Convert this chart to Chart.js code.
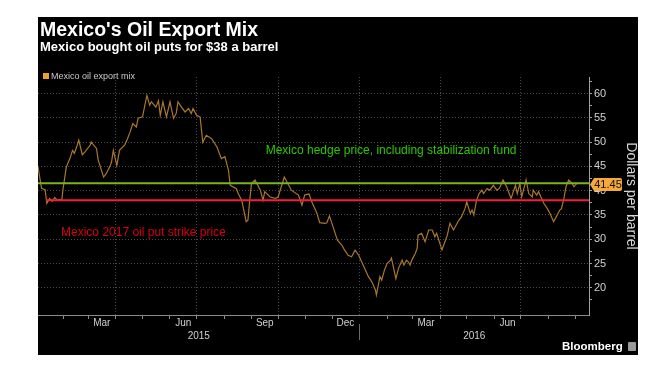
<!DOCTYPE html>
<html>
<head>
<meta charset="utf-8">
<script src="https://cdn.jsdelivr.net/npm/chart.js@4.4.0/dist/chart.umd.min.js"></script>
<style>
  html, body { margin: 0; padding: 0; background: #fff; }
  body { width: 671px; height: 376px; position: relative; overflow: hidden; font-family: "Liberation Sans", Arial, sans-serif; }
  #panel { position: absolute; left: 38px; top: 17px; width: 600px; height: 338px; background: #000; }
  #panel canvas { position: absolute; left: 0; top: 0; }
  .txt { position: absolute; white-space: nowrap; line-height: 1; z-index: 2; }
  #title { left: 2px; top: 2.5px; color: #fff; font-weight: bold; font-size: 19.5px; }
  #subtitle { left: 2px; top: 23px; color: #fff; font-weight: bold; font-size: 13px; }
  #legend { left: 5px; top: 55px; color: #c8c8c8; font-size: 9px; }
  #legend i { display: inline-block; width: 6px; height: 6px; background: #f0a030; margin-right: 2px; vertical-align: 0; }
  #brand { left: 524px; top: 324px; color: #fff; font-weight: bold; font-size: 11.5px; }
  #brand b { display: inline-block; width: 8px; height: 9px; background: #9a9a9a; border-radius: 1px; margin-left: 5px; vertical-align: -1px; }
</style>
</head>
<body>
<div id="panel">
  <canvas id="chart" width="600" height="338"></canvas>
  <div class="txt" id="title">Mexico's Oil Export Mix</div>
  <div class="txt" id="subtitle">Mexico bought oil puts for $38 a barrel</div>
  <div class="txt" id="legend"><i></i>Mexico oil export mix</div>
  <div class="txt" id="brand">Bloomberg<b></b></div>
</div>
<script>
// day numbers count from 1 Jan 2015
const startDay = Date.UTC(2015, 0, 1);
const dayOf = (y, m, d) => (Date.UTC(y, m, d) - startDay) / 864e5;

const days = [
  2, 6, 10, 12, 15, 18, 21, 24, 29, 30, 34, 38, 41, 43, 46, 48, 52, 55, 61, 62,
  68, 70, 76, 79, 83, 85, 87, 91, 94, 100, 103, 106, 109, 113, 115, 120, 123, 125, 128, 130,
  135, 138, 140, 143, 147, 151, 155, 158, 160, 164, 168, 172, 175, 177, 181, 185, 188, 192, 198, 204,
  209, 213, 217, 219, 226, 228, 232, 237, 239, 241, 243, 247, 253, 256, 258, 264, 270, 273, 280, 288,
  296, 300, 303, 308, 311, 317, 320, 326, 328, 331, 335, 340, 345, 348, 352, 356, 360, 364, 369, 375,
  379, 383, 384, 388, 390, 393, 396, 400, 401, 403, 406, 409, 413, 415, 418, 420, 422, 424, 428, 430,
  431, 435, 439, 443, 447, 450, 452, 458, 460, 464, 467, 471, 477, 480, 484, 486, 490, 492, 494, 497,
  500, 503, 505, 509, 512, 516, 520, 523, 527, 531, 536, 541, 543, 546, 548, 553, 556, 560, 561, 565,
  567, 573, 577, 580, 584, 587, 591, 593, 596, 598, 601, 605, 607, 610
];
const prices = [
  44.9, 40.5, 40.2, 37.4, 38.4, 37.8, 38.6, 38.0, 38.2, 40.0, 44.9, 46.6, 48.3, 47.7, 49.2, 50.4, 47.4, 48.0, 49.4, 50.0,
  48.7, 46.3, 42.8, 43.5, 44.9, 45.9, 48.3, 45.2, 48.3, 49.4, 50.7, 52.1, 53.8, 53.1, 54.9, 55.2, 57.9, 59.6, 57.6, 58.3,
  57.2, 58.5, 55.5, 58.3, 55.2, 58.3, 54.9, 55.9, 58.3, 57.2, 56.2, 56.9, 55.9, 56.9, 55.5, 55.2, 50.0, 51.4, 50.7, 49.0,
  46.6, 47.0, 44.2, 41.1, 40.4, 39.4, 38.0, 33.6, 33.9, 38.0, 41.5, 42.2, 40.1, 38.0, 39.8, 38.7, 38.4, 38.7, 42.8, 40.1,
  39.1, 37.0, 39.1, 39.3, 37.7, 35.3, 33.4, 33.25, 33.4, 34.8, 32.6, 29.8, 28.8, 27.8, 26.7, 26.4, 27.75, 26.7, 24.7, 22.3,
  21.2, 19.5, 18.5, 22.3, 21.6, 23.6, 25.0, 25.7, 26.1, 24.4, 21.9, 24.0, 25.7, 24.7, 25.7, 25.35, 24.7, 25.7, 27.1, 28.1,
  30.85, 31.2, 29.5, 31.9, 31.9, 30.5, 31.2, 27.8, 28.8, 30.8, 33.3, 31.9, 33.9, 34.6, 36.3, 37.7, 35.3, 36.0, 35.0, 38.0,
  39.4, 40.1, 39.4, 40.45, 40.1, 41.1, 40.1, 40.5, 42.2, 40.8, 38.4, 41.1, 39.4, 41.5, 38.7, 42.2, 39.4, 38.7, 40.1, 39.1,
  39.8, 37.4, 36.3, 35.3, 33.6, 34.6, 36.0, 36.3, 38.7, 40.8, 42.2, 41.5, 40.8, 41.45
];

const hedgePrice = 41.5;
const strikePrice = 38;
const strikeStartDay = 11;
const xMin = 2;
const xMax = 624;
const yMin = 14.4;
const yMax = 63.4;

const yTickValues = [17.5, 20, 22.5, 25, 27.5, 30, 32.5, 35, 37.5, 40, 42.5, 45, 47.5, 50, 52.5, 55, 57.5, 60, 62.5];
const monthLabels = ['Mar', 'Jun', 'Sep', 'Dec', 'Mar', 'Jun'];
const labelYears = [2015, 2015, 2015, 2015, 2016, 2016];
const labelMonths = [2, 5, 8, 11, 2, 5];
const yearLabels = ['2015', '2016'];

const notes = [
  { text: 'Mexico hedge price, including stabilization fund', day: 259, value: 48.3, color: '#2cc800' },
  { text: 'Mexico 2017 oil put strike price', day: 28, value: 31.3, color: '#d6000f' }
];

// month boundaries, quarter boundaries, mid-month label spots, year centres
const monthStarts = [];
for (let m = 0; m < 21; m++) {
  const d = dayOf(2015, m, 1);
  if (d >= xMin && d <= xMax) monthStarts.push(d);
}
const quarterStarts = [];
for (let m = 0; m < 21; m += 3) quarterStarts.push(dayOf(2015, m, 1));
const labelDays = labelMonths.map((m, i) => dayOf(labelYears[i], m, 16));
const yearBreak = dayOf(2016, 0, 1);
const yearDays = [(xMin + yearBreak) / 2, (yearBreak + xMax) / 2];

const gridColor = '#4a4a4a';
const font = 'Liberation Sans';
const tickLen = 25;

const lastLabel = {
  id: 'lastLabel',
  afterDraw(chart) {
    const { ctx, scales: { y } } = chart;
    const v = prices[prices.length - 1];
    const py = Math.round(y.getPixelForValue(v)) + 0.5;
    const x0 = y.left + 1;
    const w = 32, h = 13;
    ctx.save();
    ctx.fillStyle = '#f5a83c';
    ctx.beginPath();
    ctx.moveTo(x0, py);
    ctx.lineTo(x0 + 4, py - h / 2);
    ctx.lineTo(x0 + w - 2, py - h / 2);
    ctx.quadraticCurveTo(x0 + w, py - h / 2, x0 + w, py - h / 2 + 2);
    ctx.lineTo(x0 + w, py + h / 2 - 2);
    ctx.quadraticCurveTo(x0 + w, py + h / 2, x0 + w - 2, py + h / 2);
    ctx.lineTo(x0 + 4, py + h / 2);
    ctx.closePath();
    ctx.fill();
    ctx.fillStyle = '#111';
    ctx.font = '11px "' + font + '"';
    ctx.textAlign = 'center';
    ctx.textBaseline = 'middle';
    ctx.fillText(v.toFixed(2), x0 + 2 + w / 2, py + 0.5);
    ctx.restore();
  }
};

const noteText = {
  id: 'noteText',
  afterDatasetsDraw(chart) {
    const { ctx, scales: { x, y } } = chart;
    ctx.save();
    ctx.font = '12px "' + font + '"';
    ctx.textAlign = 'left';
    ctx.textBaseline = 'middle';
    notes.forEach(n => {
      ctx.fillStyle = n.color;
      ctx.fillText(n.text, x.getPixelForValue(n.day), y.getPixelForValue(n.value));
    });
    ctx.restore();
  }
};

new Chart(document.getElementById('chart'), {
  type: 'line',
  data: {
    datasets: [
      {
        label: 'Mexico oil export mix',
        data: days.map((d, i) => ({ x: d, y: prices[i] })),
        borderColor: '#a9772f',
        borderWidth: 1.2,
        pointRadius: 0,
        tension: 0,
        order: 2
      },
      {
        label: 'Hedge price',
        data: [{ x: xMin, y: hedgePrice }, { x: xMax, y: hedgePrice }],
        borderColor: '#7ab51e',
        borderWidth: 2,
        pointRadius: 0,
        order: 1
      },
      {
        label: 'Put strike',
        data: [{ x: strikeStartDay, y: strikePrice }, { x: xMax, y: strikePrice }],
        borderColor: '#f51e3a',
        borderWidth: 2,
        pointRadius: 0,
        order: 1
      }
    ]
  },
  options: {
    responsive: false,
    animation: false,
    layout: { padding: { top: 60, left: 0, right: 0, bottom: 0 } },
    plugins: {
      legend: { display: false },
      tooltip: { enabled: false }
    },
    scales: {
      x: {
        type: 'linear',
        position: 'bottom',
        min: xMin,
        max: xMax,
        bounds: 'data',
        afterBuildTicks: s => {
          s.ticks = monthStarts.concat(labelDays, yearDays).sort((a, b) => a - b).map(v => ({ value: v }));
        },
        afterFit: s => { s.height = 40; },
        grid: {
          color: c => c.tick && quarterStarts.includes(c.tick.value) ? gridColor : 'transparent',
          tickColor: c => c.tick && monthStarts.includes(c.tick.value)
            ? (c.tick.value === yearBreak ? '#6a6a6a' : '#8a8a8a') : 'transparent',
          // month ticks are short; the year break tick shows only as the divider under the month row
          tickBorderDash: c => c.tick && c.tick.value === yearBreak ? [0, 8, 17, 100] : [3, 100],
          tickLength: tickLen
        },
        border: { color: '#8a8a8a', width: 1, dash: [1, 2] },
        ticks: {
          autoSkip: false,
          maxRotation: 0,
          padding: 2 - tickLen,
          color: '#d0d0d0',
          font: { family: font, size: 10, lineHeight: 1.3 },
          callback: v => {
            const i = labelDays.indexOf(v);
            if (i >= 0) return monthLabels[i];
            const j = yearDays.indexOf(v);
            if (j >= 0) return ['', yearLabels[j]];
            return '';
          }
        }
      },
      y: {
        type: 'linear',
        position: 'right',
        min: yMin,
        max: yMax,
        bounds: 'data',
        afterBuildTicks: s => { s.ticks = yTickValues.map(v => ({ value: v })); },
        afterFit: s => { s.width = 49; },
        grid: {
          color: c => c.tick && c.tick.value % 5 === 0 ? gridColor : 'transparent',
          tickColor: '#a0a0a0',
          tickLength: 3
        },
        border: { color: '#a0a0a0', width: 1, dash: [1, 2] },
        ticks: {
          autoSkip: false,
          padding: 2,
          color: '#d0d0d0',
          font: { family: font, size: 11 },
          callback: v => v % 5 === 0 ? String(v) : ''
        },
        title: {
          display: true,
          text: 'Dollars per barrel',
          color: '#d8d8d8',
          font: { family: font, size: 14, lineHeight: 1 },
          padding: 0
        }
      }
    }
  },
  plugins: [noteText, lastLabel]
});
</script>
</body>
</html>
